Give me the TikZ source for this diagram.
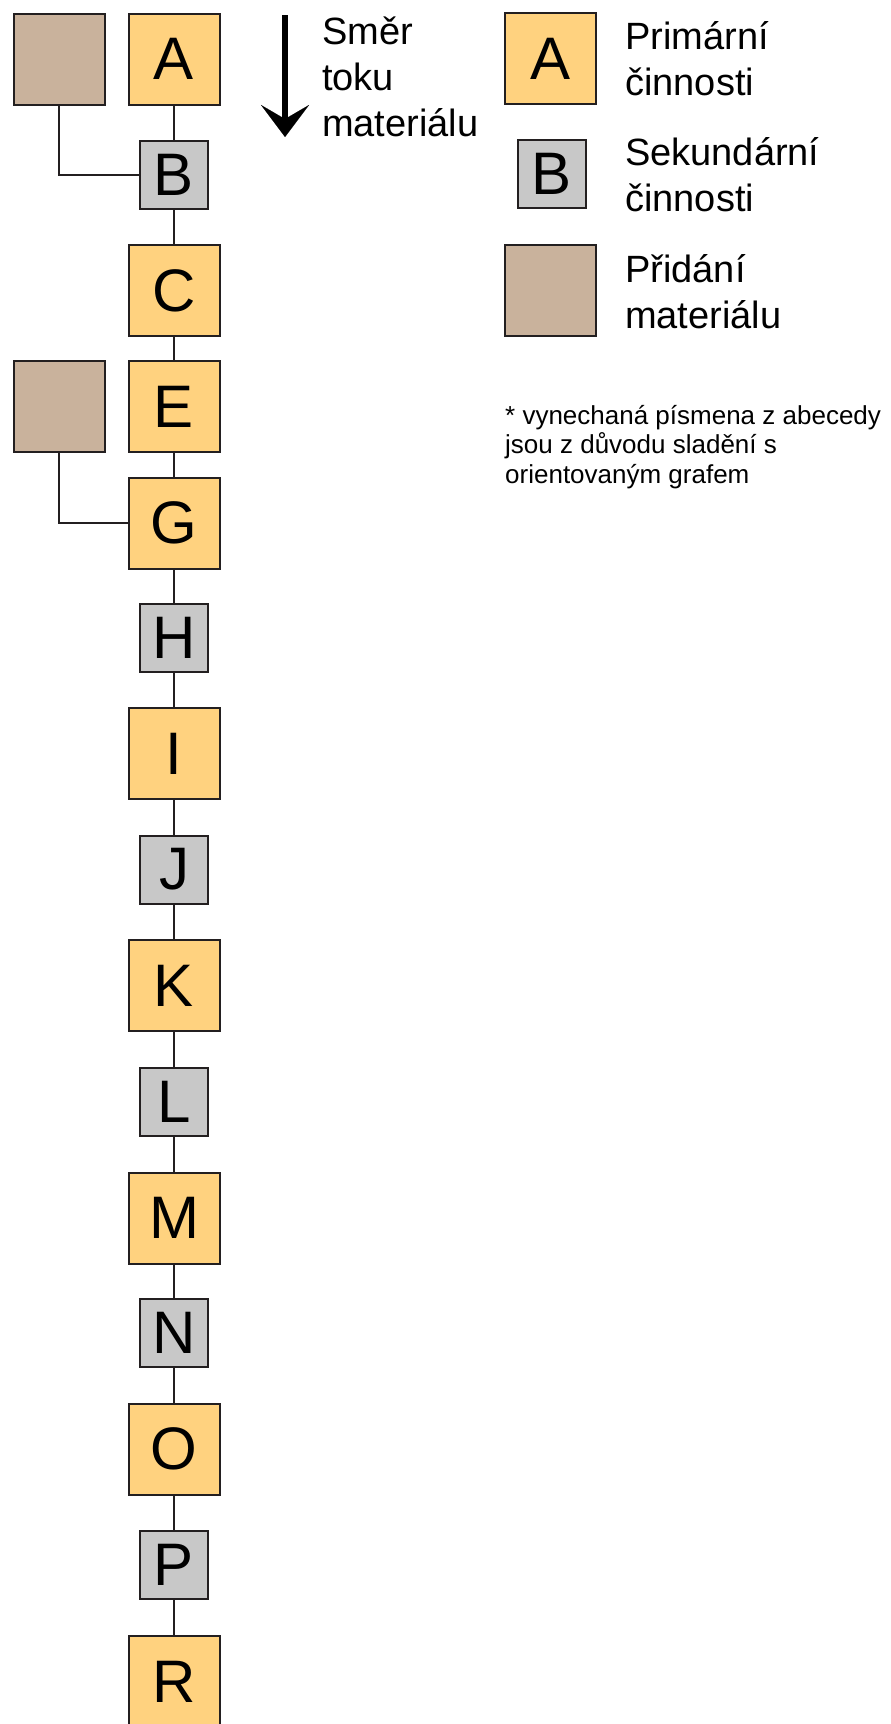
\documentclass[tikz,border=0pt]{standalone}
\usepackage{fontspec}
\setmainfont{Liberation Sans}
\usetikzlibrary{arrows.meta}
\definecolor{prim}{HTML}{FFD27F}
\definecolor{sec}{HTML}{C8C8C8}
\definecolor{mat}{HTML}{C9B29C}
\definecolor{edge}{HTML}{231F20}
\begin{document}
\begin{tikzpicture}[x=1pt,y=-1pt,
  box/.style={draw=edge, line width=2pt, inner sep=0pt, font=\fontsize{60}{60}\selectfont, text=black},
  primbox/.style={box, fill=prim, minimum width=91pt, minimum height=91pt},
  secbox/.style={box, fill=sec, minimum width=68pt, minimum height=68pt},
  matbox/.style={box, fill=mat, minimum width=91pt, minimum height=91pt},
  link/.style={draw=edge, line width=2pt},
  lbl/.style={anchor=base west, inner sep=0pt, font=\fontsize{38}{46}\selectfont},
  note/.style={anchor=base west, inner sep=0pt, font=\fontsize{26}{29.5}\selectfont},
]
\useasboundingbox[fill=white] (0,0) rectangle (891,1724);

% main chain
\node[primbox] (A) at (174,59) {A};
\node[secbox]  (B) at (174,174.5) {B};
\node[primbox] (C) at (174,290.5) {C};
\node[primbox] (E) at (174,406.5) {E};
\node[primbox] (G) at (174,523) {G};
\node[secbox]  (H) at (174,638) {H};
\node[primbox] (I) at (174,753.5) {I};
\node[secbox]  (J) at (174,869.5) {J};
\node[primbox] (K) at (174,985.5) {K};
\node[secbox]  (L) at (174,1101.5) {L};
\node[primbox] (M) at (174,1218) {M};
\node[secbox]  (N) at (174,1333) {N};
\node[primbox] (O) at (174,1449) {O};
\node[secbox]  (P) at (174,1565) {P};
\node[primbox] (R) at (174,1681.5) {R};

% material additions
\node[matbox] (m1) at (59.3,59) {};
\node[matbox] (m2) at (59.3,406.5) {};

% connectors
\draw[link] (A) -- (B);
\draw[link] (B) -- (C);
\draw[link] (C) -- (E);
\draw[link] (E) -- (G);
\draw[link] (G) -- (H);
\draw[link] (H) -- (I);
\draw[link] (I) -- (J);
\draw[link] (J) -- (K);
\draw[link] (K) -- (L);
\draw[link] (L) -- (M);
\draw[link] (M) -- (N);
\draw[link] (N) -- (O);
\draw[link] (O) -- (P);
\draw[link] (P) -- (R);
\draw[link] (m1.south) |- (B.west);
\draw[link] (m2.south) |- (G.west);

% flow direction arrow
\coordinate (arrS) at (285,15);
\coordinate (arrE) at (285,137);
\draw[line width=6pt, -{Stealth[length=32pt,width=48pt,inset=14pt,line width=0.1pt]}] (arrS) -- (arrE);
\node[lbl] (flow) at (322,44) {\begin{tabular}[t]{@{}l@{}}Směr\\toku\\materiálu\end{tabular}};

% legend
\node[primbox] (LA) at (550.5,58.5) {A};
\node[secbox]  (LB) at (551.5,174) {B};
\node[matbox]  (LM) at (550.5,290.5) {};
\node[lbl] (tA) at (625,49) {\begin{tabular}[t]{@{}l@{}}Primární\\činnosti\end{tabular}};
\node[lbl] (tB) at (625,165) {\begin{tabular}[t]{@{}l@{}}Sekundární\\činnosti\end{tabular}};
\node[lbl] (tM) at (625,282) {\begin{tabular}[t]{@{}l@{}}Přidání\\materiálu\end{tabular}};

% footnote
\node[note] (fn) at (505,424) {\begin{tabular}[t]{@{}l@{}}* vynechaná písmena z abecedy\\jsou z důvodu sladění s\\orientovaným grafem\end{tabular}};
\end{tikzpicture}
\end{document}
